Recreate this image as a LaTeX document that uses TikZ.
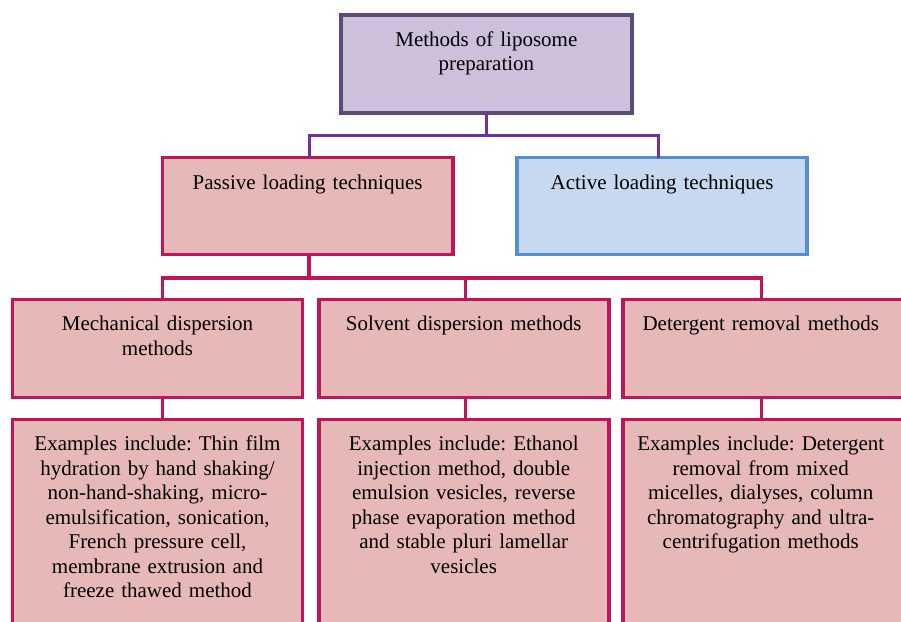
\documentclass[tikz,border=0pt]{standalone}
\usepackage{fontspec}
\setmainfont{Liberation Serif}
\usetikzlibrary{calc}
\frenchspacing
\definecolor{topfill}{HTML}{CCC0DA}
\definecolor{topdraw}{HTML}{5F497A}
\definecolor{purpline}{HTML}{7030A0}
\definecolor{pinkfill}{HTML}{E6B8B7}
\definecolor{pinkdraw}{HTML}{C0145C}
\definecolor{bluefill}{HTML}{C6D9F1}
\definecolor{bluedraw}{HTML}{558ED5}
\tikzset{
  boxbase/.style={rectangle, inner sep=0pt, outer sep=0pt, anchor=north west, line width=3.8pt},
  topbox/.style={boxbase, fill=topfill, draw=topdraw},
  pinkbox/.style={boxbase, fill=pinkfill, draw=pinkdraw},
  bluebox/.style={boxbase, fill=bluefill, draw=bluedraw},
  txt/.style={anchor=base, inner sep=0pt, text width=280pt, align=center,
    font=\fontsize{21}{24.5}\selectfont\frenchspacing},
  purpconn/.style={draw=purpline, line width=3pt},
  pinkconn/.style={draw=pinkdraw, line width=3.5pt}
}
\begin{document}
\begin{tikzpicture}[x=1pt,y=-1pt]
\useasboundingbox (0,0) rectangle (901,621);
\clip (0,0) rectangle (901,621);
% boxes
\node[topbox, minimum width=291.3pt, minimum height=98.3pt] (root) at (340.7,15) {};
\node[pinkbox, minimum width=290.2pt, minimum height=97pt] (pass) at (162.5,157.5) {};
\node[bluebox, minimum width=289.5pt, minimum height=97pt] (act) at (517.3,157.5) {};
\node[pinkbox, minimum width=290pt, minimum height=98pt] (mech) at (12.5,299.5) {};
\node[pinkbox, minimum width=290pt, minimum height=98pt] (solv) at (318.7,299.5) {};
\node[pinkbox, minimum width=290pt, minimum height=98pt] (det) at (622.7,299.5) {};
\node[pinkbox, minimum width=290pt, minimum height=240pt] (mechex) at (12.5,419.5) {};
\node[pinkbox, minimum width=290pt, minimum height=240pt] (solvex) at (318.7,419.5) {};
\node[pinkbox, minimum width=290pt, minimum height=240pt] (detex) at (622.7,419.5) {};
% texts
\node[txt] (rootT) at ([yshift=-31pt]root.north) {Methods of liposome\\preparation};
\node[txt] (passT) at ([yshift=-32pt]pass.north) {Passive loading techniques};
\node[txt] (actT) at ([yshift=-32pt]act.north) {Active loading techniques};
\node[txt] (mechT) at ([yshift=-31pt]mech.north) {Mechanical dispersion\\methods};
\node[txt] (solvT) at ([yshift=-31pt]solv.north) {Solvent dispersion methods};
\node[txt] (detT) at ([xshift=-7pt,yshift=-31pt]det.north) {Detergent removal methods};
\node[txt] (mechexT) at ([yshift=-31pt]mechex.north) {Examples include: Thin film\\hydration by hand shaking/\\non-hand-shaking, micro-\\emulsification, sonication,\\French pressure cell,\\membrane extrusion and\\freeze thawed method};
\node[txt] (solvexT) at ([yshift=-31pt]solvex.north) {Examples include: Ethanol\\injection method, double\\emulsion vesicles, reverse\\phase evaporation method\\and stable pluri lamellar\\vesicles};
\node[txt] (detexT) at ([xshift=-7pt,yshift=-31pt]detex.north) {Examples include: Detergent\\removal from mixed\\micelles, dialyses, column\\chromatography and ultra-\\centrifugation methods};
% connectors level 1
\coordinate (bus1) at ($(root.south)+(0,21.7)$);
\draw[purpconn] (root.south) -- (bus1);
\draw[purpconn] ([xshift=1.4pt]pass.north) |- (bus1) -| ([xshift=-3.7pt]act.north);
% connectors level 2
\coordinate (bus2) at ($([xshift=1.4pt]pass.south)+(0,23.5)$);
\draw[pinkconn] ([xshift=1.4pt]pass.south) -- (bus2);
\draw[pinkconn] ([xshift=5pt]mech.north) |- (bus2) -| ([xshift=-6pt]det.north);
\draw[pinkconn] ([xshift=2pt]solv.north) -- ([xshift=2pt]solv.north |- bus2);
% connectors level 3
\draw[pinkconn] ([xshift=5pt]mech.south) -- ([xshift=5pt]mechex.north);
\draw[pinkconn] ([xshift=2pt]solv.south) -- ([xshift=2pt]solvex.north);
\draw[pinkconn] ([xshift=-6pt]det.south) -- ([xshift=-6pt]detex.north);
\end{tikzpicture}
\end{document}
